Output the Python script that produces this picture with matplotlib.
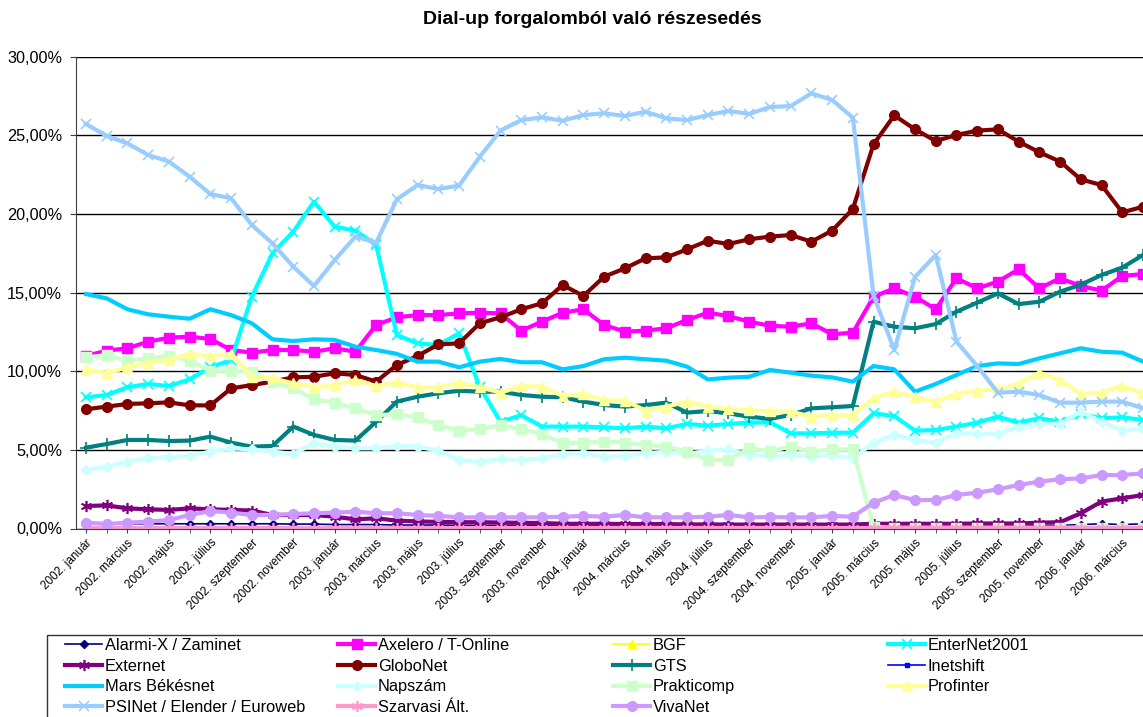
import numpy as np
import matplotlib
matplotlib.use("Agg")
import matplotlib.pyplot as plt
from matplotlib.patches import Rectangle
from matplotlib.ticker import FuncFormatter

plt.rcParams['font.family'] = ['Liberation Sans', 'DejaVu Sans']

months_hu = ["január", "február", "március", "április", "május", "június",
             "július", "augusztus", "szeptember", "október", "november", "december"]
n_points = 52
categories = [f"{2002 + k // 12}. {months_hu[k % 12]}" for k in range(n_points)]

nan = np.nan
alarmi = [0.35, 0.35, 0.3, 0.3, 0.3, 0.3, 0.3, 0.3, 0.3, 0.3, 0.28, 0.28, 0.25, 0.25, 0.25, 0.22,
          0.22, 0.22, 0.2, 0.2, 0.2, 0.2, 0.2, 0.2, 0.2, 0.2, 0.2, 0.2, 0.2, 0.2, 0.2, 0.2,
          0.2, 0.2, 0.2, 0.2, 0.2, 0.2, 0.2, 0.2, 0.2, 0.2, 0.2, 0.2, 0.2, 0.2, 0.2, 0.2,
          0.25, 0.3, 0.25, 0.3]
axelero = [10.97, 11.31, 11.46, 11.88, 12.13, 12.2, 12.05, 11.35, 11.18, 11.35, 11.35, 11.24, 11.46,
           11.24, 12.94, 13.43, 13.57, 13.57, 13.68, 13.72, 13.68, 12.58, 13.15, 13.72, 13.94, 12.94,
           12.52, 12.58, 12.73, 13.26, 13.72, 13.51, 13.15, 12.89, 12.83, 13.05, 12.35, 12.45, 14.74,
           15.27, 14.74, 13.94, 15.91, 15.27, 15.7, 16.48, 15.27, 15.91, 15.42, 15.12, 16.06, 16.18]
bgf = [0.0] * 38 + [nan] * 14
enternet = [8.34, 8.49, 8.98, 9.19, 9.06, 9.48, 10.25, 10.71, 14.74, 17.5, 18.87, 20.78, 19.19, 18.94,
            18.03, 12.3, 11.77, 11.67, 12.41, 9.0, 6.79, 7.2, 6.48, 6.48, 6.48, 6.43, 6.37, 6.48, 6.37,
            6.65, 6.54, 6.65, 6.73, 6.76, 6.05, 6.05, 6.09, 6.09, 7.32, 7.15, 6.22, 6.26, 6.48, 6.73,
            7.11, 6.73, 7.01, 6.79, 7.28, 7.01, 7.07, 6.9]
externet = [1.43, 1.47, 1.28, 1.22, 1.18, 1.28, 1.22, 1.18, 1.14, 0.86, 0.86, 0.86, 0.75, 0.58, 0.65,
            0.5, 0.45, 0.42, 0.4, 0.4, 0.38, 0.36, 0.35, 0.3, 0.3, 0.3, 0.28, 0.28, 0.28, 0.26, 0.26,
            0.25, 0.25, 0.25, 0.25, 0.25, 0.25, 0.25, 0.3, 0.3, 0.3, 0.3, 0.3, 0.32, 0.32, 0.32, 0.37,
            0.4, 0.97, 1.71, 1.92, 2.13]
globonet = [7.58, 7.75, 7.92, 7.96, 8.02, 7.83, 7.83, 8.91, 9.12, 9.34, 9.61, 9.65, 9.87, 9.76, 9.34,
            10.4, 10.97, 11.71, 11.77, 13.05, 13.43, 13.94, 14.32, 15.48, 14.79, 16.01, 16.54, 17.18,
            17.24, 17.75, 18.3, 18.09, 18.39, 18.56, 18.66, 18.24, 18.94, 20.32, 24.43, 26.27, 25.38,
            24.64, 25.02, 25.3, 25.38, 24.6, 23.92, 23.33, 22.2, 21.84, 20.1, 20.46]
gts = [5.14, 5.37, 5.63, 5.63, 5.56, 5.59, 5.84, 5.46, 5.2, 5.25, 6.48, 5.95, 5.63, 5.59, 6.79, 8.07,
       8.38, 8.6, 8.76, 8.7, 8.7, 8.49, 8.38, 8.34, 8.07, 7.85, 7.75, 7.85, 8.0, 7.37, 7.47, 7.32,
       7.11, 6.97, 7.22, 7.64, 7.71, 7.79, 13.15, 12.83, 12.73, 13.0, 13.79, 14.36, 14.95, 14.27,
       14.42, 15.06, 15.5, 16.12, 16.59, 17.39]
inetshift = [0.12] * 52
mars = [14.91, 14.63, 13.94, 13.62, 13.47, 13.34, 13.94, 13.57, 13.05, 12.03, 11.92, 12.03, 11.99,
        11.56, 11.35, 11.1, 10.61, 10.61, 10.25, 10.61, 10.78, 10.57, 10.57, 10.12, 10.33, 10.76,
        10.86, 10.76, 10.67, 10.29, 9.48, 9.59, 9.65, 10.08, 9.91, 9.72, 9.61, 9.34, 10.33, 10.12,
        8.7, 9.19, 9.76, 10.33, 10.5, 10.46, 10.82, 11.14, 11.46, 11.24, 11.18, 10.61]
napszam = [3.72, 3.93, 4.25, 4.46, 4.53, 4.61, 4.89, 5.1, 5.03, 4.89, 4.74, 5.42, 5.2, 5.1, 5.1, 5.24,
           5.2, 4.95, 4.36, 4.25, 4.4, 4.36, 4.46, 4.74, 4.78, 4.57, 4.61, 4.78, 4.89, 4.74, 4.95,
           5.03, 4.67, 4.6, 4.67, 4.57, 4.67, 4.46, 5.46, 5.95, 5.63, 5.46, 6.09, 6.01, 6.01, 6.48,
           6.65, 6.65, 7.43, 6.79, 6.22, 6.37]
prakticomp = [10.88, 11.03, 10.65, 10.82, 10.97, 10.65, 10.04, 10.04, 9.97, 9.34, 8.91, 8.21, 8.0,
              7.64, 7.22, 7.25, 7.07, 6.58, 6.22, 6.31, 6.58, 6.31, 6.01, 5.42, 5.46, 5.52, 5.46,
              5.31, 5.2, 4.89, 4.36, 4.36, 5.1, 4.92, 5.2, 4.89, 5.03, 5.03, 0.1, 0.05, 0.05, 0.05,
              0.05, 0.05, 0.05, 0.05, 0.05, 0.05, 0.05, 0.05, 0.05, 0.05]
profinter = [10.12, 9.87, 10.25, 10.54, 10.71, 11.1, 10.97, 11.1, 9.65, 9.55, 9.23, 8.98, 9.12, 9.44,
             9.06, 9.3, 8.98, 8.98, 9.27, 8.98, 8.64, 9.06, 9.02, 8.43, 8.55, 8.17, 8.13, 7.49, 7.75,
             8.07, 7.75, 7.58, 7.54, 7.45, 7.43, 7.11, 7.22, 7.22, 8.28, 8.7, 8.34, 8.07, 8.55, 8.76,
             8.85, 9.19, 9.91, 9.44, 8.55, 8.64, 9.06, 8.6]
psinet = [25.72, 24.96, 24.49, 23.75, 23.33, 22.37, 21.27, 21.0, 19.3, 18.13, 16.65, 15.42, 17.07,
          18.56, 18.18, 20.93, 21.84, 21.59, 21.8, 23.64, 25.3, 25.97, 26.14, 25.93, 26.29, 26.4,
          26.23, 26.5, 26.08, 25.97, 26.29, 26.55, 26.36, 26.8, 26.86, 27.67, 27.25, 26.12, 14.8,
          11.35, 16.0, 17.39, 11.88, 10.33, 8.64, 8.7, 8.49, 8.0, 8.0, 8.07, 8.07, 7.64]
szarvasi = [0.05] * 52
vivanet = [0.37, 0.29, 0.37, 0.44, 0.54, 0.86, 1.11, 1.01, 0.86, 0.86, 0.92, 0.97, 1.01, 1.07, 0.97,
           0.97, 0.86, 0.8, 0.71, 0.71, 0.71, 0.71, 0.71, 0.75, 0.8, 0.75, 0.86, 0.71, 0.71, 0.71,
           0.75, 0.86, 0.71, 0.73, 0.71, 0.71, 0.8, 0.75, 1.64, 2.13, 1.81, 1.81, 2.13, 2.28, 2.49,
           2.77, 2.98, 3.13, 3.19, 3.4, 3.4, 3.51]

series_names = ["Alarmi-X / Zaminet", "Axelero / T-Online", "BGF", "EnterNet2001",
                "Externet", "GloboNet", "GTS", "Inetshift",
                "Mars Békésnet", "Napszám", "Prakticomp", "Profinter",
                "PSINet / Elender / Euroweb", "Szarvasi Ált.", "VivaNet"]
series_values = [alarmi, axelero, bgf, enternet, externet, globonet, gts, inetshift,
                 mars, napszam, prakticomp, profinter, psinet, szarvasi, vivanet]

AST = (6, 2, 0)
styles = [
    dict(color="#000080", lw=1.2, marker="D", ms=4),
    dict(color="#FF00FF", lw=3.0, marker="s", ms=7),
    dict(color="#FFFF00", lw=1.2, marker="^", ms=6),
    dict(color="#00FFFF", lw=3.0, marker="x", ms=7, mew=1.2),
    dict(color="#800080", lw=3.0, marker=AST, ms=8, mew=1.2),
    dict(color="#800000", lw=3.0, marker="o", ms=7),
    dict(color="#008080", lw=3.0, marker="+", ms=8, mew=1.2),
    dict(color="#0000FF", lw=1.2, marker="s", ms=2.5),
    dict(color="#00CCFF", lw=3.0, marker=None),
    dict(color="#CCFFFF", lw=3.0, marker="D", ms=5),
    dict(color="#CCFFCC", lw=3.0, marker="s", ms=7),
    dict(color="#FFFF99", lw=3.0, marker="^", ms=7),
    dict(color="#99CCFF", lw=3.0, marker="x", ms=7, mew=1.2),
    dict(color="#FF99CC", lw=3.0, marker=AST, ms=8, mew=1.2),
    dict(color="#CC99FF", lw=3.0, marker="o", ms=7),
]

W, H = 1143, 717
fig = plt.figure(figsize=(W / 100, H / 100), dpi=100)
ax_left, ax_right = 76 / W, 1.0
ax_bottom, ax_top = 1 - 528.5 / H, 1 - 56.7 / H
ax = fig.add_axes([ax_left, ax_bottom, ax_right - ax_left, ax_top - ax_bottom])

x = np.arange(n_points)
handles = []
for name, vals, st in zip(series_names, series_values, styles):
    kw = dict(color=st["color"], lw=st["lw"], label=name, solid_joinstyle="round")
    if st.get("marker") is not None:
        kw.update(marker=st["marker"], markersize=st["ms"], markerfacecolor=st["color"],
                  markeredgecolor=st["color"], markeredgewidth=st.get("mew", 1.0))
    h, = ax.plot(x, vals, clip_on=True, **kw)
    handles.append(h)

ax.set_xlim(-0.482, n_points - 1)
ax.set_ylim(0, 30)
ax.set_yticks(np.arange(0, 31, 5))
ax.yaxis.set_major_formatter(FuncFormatter(lambda v, p: f"{v:.2f}".replace(".", ",") + "%"))
ax.grid(axis="y", color="#000000", lw=1.0, zorder=0)
ax.set_axisbelow(True)
for s in ["top", "right"]:
    ax.spines[s].set_visible(False)
ax.spines["left"].set_color("#404040")
ax.spines["bottom"].set_color("#404040")
ax.tick_params(axis="y", labelsize=11.7, length=4, color="#404040", pad=6)

ax.set_xticks(x[::2])
ax.set_xticklabels(categories[::2], rotation=45, ha="right", rotation_mode="anchor", fontsize=8.5)
ax.set_xticks(x[1::2], minor=True)
ax.tick_params(axis="x", which="both", length=3, color="#404040", pad=3)

fig.text(592 / W, 1 - 20 / H, "Dial-up forgalomból való részesedés", ha="center", va="center",
         fontsize=14, fontweight="bold")

# legend frame
fig.patches.append(Rectangle((47 / W, -0.05), 1.05 - 47 / W, (1 - 635 / H) + 0.05,
                             transform=fig.transFigure, fill=False, ec="#333333", lw=1.0))

col_x = [65, 338, 613, 888]
for c in range(4):
    idx = [c + 4 * r for r in range(4) if c + 4 * r < len(handles)]
    leg = fig.legend([handles[i] for i in idx], [series_names[i] for i in idx],
                     loc="upper left", bbox_to_anchor=(col_x[c] / W, 1 - 638 / H),
                     frameon=False, fontsize=11.8, handlelength=2.26, handletextpad=0.18,
                     borderpad=0, borderaxespad=0, labelspacing=0.35, numpoints=1)

fig.savefig("out.png", dpi=100)
